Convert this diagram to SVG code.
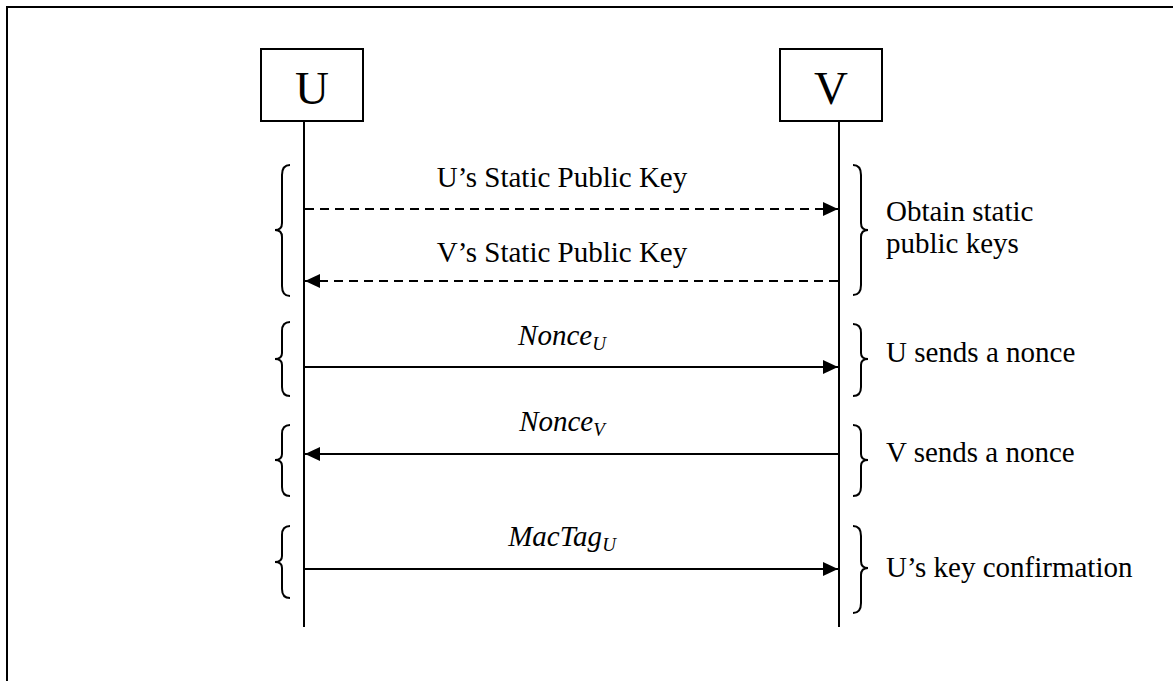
<svg xmlns="http://www.w3.org/2000/svg" width="1173" height="681" viewBox="0 0 1173 681">
<style>
.ln{stroke:#000;stroke-width:2;fill:none}
.dash{stroke-dasharray:9 6}
.t{font-family:'Liberation Serif','Times New Roman','DejaVu Serif',serif;font-size:29px;fill:#000}
.it{font-style:italic}
.big{font-family:'Liberation Serif','Times New Roman','DejaVu Serif',serif;font-size:47px;fill:#000}
.sub{font-size:19px}
</style>
<defs>
<marker id="ah" markerUnits="userSpaceOnUse" markerWidth="16" markerHeight="16" refX="15" refY="7" orient="auto">
<path d="M0,0 L15,7 L0,14 Z" fill="#000"/>
</marker>
</defs>
<rect width="1173" height="681" fill="#fff"/>
<path class="ln" d="M7,700 L7,7 L1173,7"/>
<g id="U">
<rect x="261" y="49" width="102" height="72" class="ln"/>
<text x="312" y="104" text-anchor="middle" class="big">U</text>
<line x1="304" y1="121" x2="304" y2="627" class="ln"/>
</g>
<g id="V">
<rect x="780" y="49" width="102" height="72" class="ln"/>
<text x="831" y="104" text-anchor="middle" class="big">V</text>
<line x1="839" y1="121" x2="839" y2="627" class="ln"/>
</g>
<g id="connectors">
<line x1="305" y1="209" x2="838" y2="209" class="ln dash" marker-end="url(#ah)"/>
<line x1="838" y1="281" x2="305" y2="281" class="ln dash" marker-end="url(#ah)"/>
<line x1="305" y1="367" x2="838" y2="367" class="ln" marker-end="url(#ah)"/>
<line x1="838" y1="454" x2="305" y2="454" class="ln" marker-end="url(#ah)"/>
<line x1="305" y1="569" x2="838" y2="569" class="ln" marker-end="url(#ah)"/>
</g>
<g id="labels">
<text x="562" y="187" text-anchor="middle" class="t">U’s Static Public Key</text>
<text x="562" y="262" text-anchor="middle" class="t">V’s Static Public Key</text>
<text x="562" y="345" text-anchor="middle" class="t it">Nonce<tspan class="sub" dy="5">U</tspan></text>
<text x="562" y="431" text-anchor="middle" class="t it">Nonce<tspan class="sub" dy="5">V</tspan></text>
<text x="562" y="546" text-anchor="middle" class="t it">MacTag<tspan class="sub" dy="5">U</tspan></text>
</g>
<g id="left-braces">
<path class="ln" d="M290,165 Q282,165 282,175 L282,223 Q282,230 275,230 Q282,230 282,237 L282,286 Q282,296 290,296"/>
<path class="ln" d="M290,322 Q282,322 282,331 L282,353 Q282,359 275,359 Q282,359 282,365 L282,387 Q282,396 290,396"/>
<path class="ln" d="M290,425 Q282,425 282,434 L282,454 Q282,460 275,460 Q282,460 282,466 L282,487 Q282,496 290,496"/>
<path class="ln" d="M290,526 Q282,526 282,535 L282,556 Q282,562 275,562 Q282,562 282,568 L282,589 Q282,598 290,598"/>
</g>
<g id="right-braces">
<path class="ln" d="M853,165 Q861,165 861,175 L861,223 Q861,230 868,230 Q861,230 861,237 L861,285 Q861,295 853,295"/>
<path class="ln" d="M853,324 Q861,324 861,333 L861,353 Q861,359 868,359 Q861,359 861,365 L861,387 Q861,396 853,396"/>
<path class="ln" d="M853,425 Q861,425 861,434 L861,454 Q861,460 868,460 Q861,460 861,466 L861,487 Q861,496 853,496"/>
<path class="ln" d="M853,526 Q861,526 861,536 L861,561 Q861,568 868,568 Q861,568 861,575 L861,603 Q861,613 853,613"/>
</g>
<g id="notes">
<text x="886" y="221" class="t">Obtain static</text>
<text x="886" y="253" class="t">public keys</text>
<text x="886" y="362" class="t">U sends a nonce</text>
<text x="886" y="462" class="t">V sends a nonce</text>
<text x="886" y="577" class="t">U’s key confirmation</text>
</g>
</svg>
